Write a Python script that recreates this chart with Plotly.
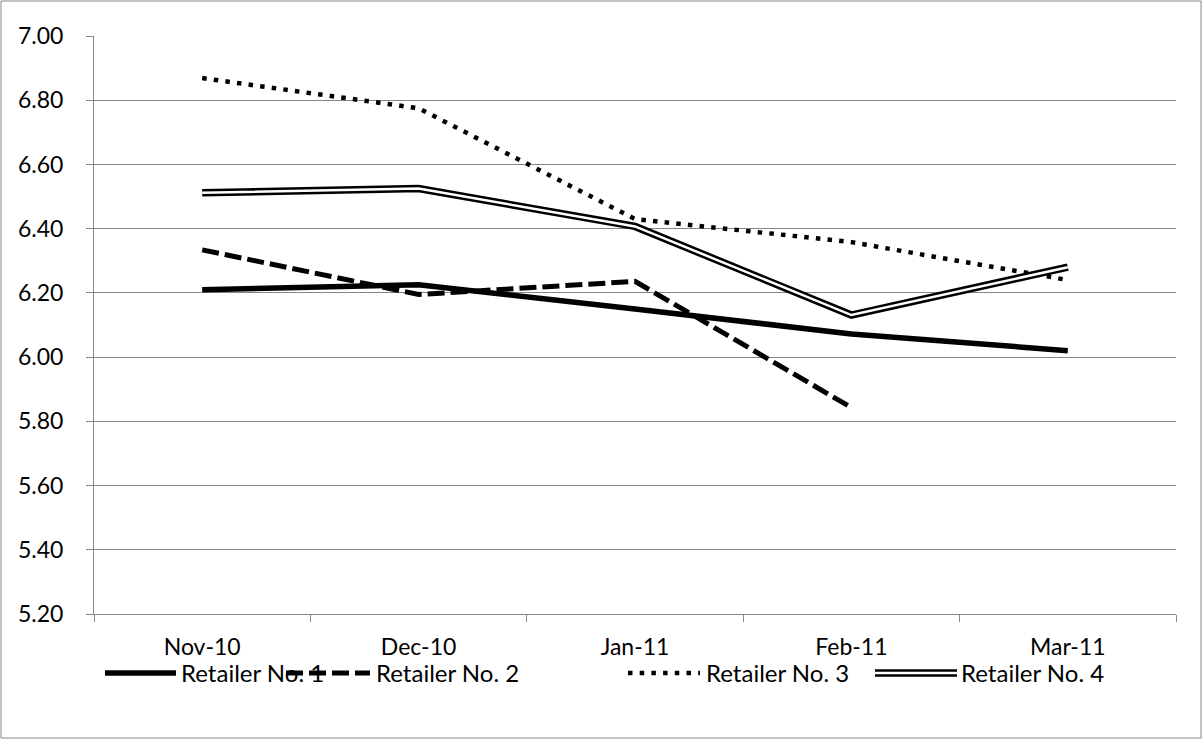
import plotly.graph_objects as go

months = ["Nov-10", "Dec-10", "Jan-11", "Feb-11", "Mar-11"]
retailer1 = [6.21, 6.225, 6.15, 6.072, 6.02]
retailer2 = [6.334, 6.195, 6.236, 5.843, None]
retailer3 = [6.869, 6.775, 6.43, 6.358, 6.24]
retailer4 = [6.512, 6.525, 6.407, 6.131, 6.28]
names = ["Retailer No. 1", "Retailer No. 2", "Retailer No. 3", "Retailer No. 4"]

W, H = 1203, 740
L, R, T, B = 94, 1176, 36, 614
FONT = "Lato"
FS = 23
GRID = "#868686"
DASH = "17px,6px"
DOT = "4.5px,7.2px"


def px(x):
    return (x - L) / (R - L)


def py(y):
    return (B - y) / (B - T)


fig = go.Figure()
fig.add_trace(go.Scatter(x=months, y=retailer1, mode="lines", name=names[0],
                         line=dict(color="black", width=5.5), showlegend=False))
fig.add_trace(go.Scatter(x=months, y=retailer2, mode="lines", name=names[1],
                         line=dict(color="black", width=5, dash=DASH),
                         showlegend=False))
fig.add_trace(go.Scatter(x=months, y=retailer3, mode="lines", name=names[2],
                         line=dict(color="black", width=4.5, dash=DOT),
                         showlegend=False))
fig.add_trace(go.Scatter(x=months, y=retailer4, mode="lines", name=names[3],
                         line=dict(color="black", width=7.5), showlegend=False))
fig.add_trace(go.Scatter(x=months, y=retailer4, mode="lines", name=names[3],
                         line=dict(color="white", width=2.5), showlegend=False,
                         hoverinfo="skip"))

# custom legend (Excel style, long samples)
legend_y = 673
samples = [(105, 176, 181), (286, 370, 376), (628, 700, 706), (875, 957, 961)]
styles = [
    [dict(color="black", width=5.5)],
    [dict(color="black", width=5, dash=DASH)],
    [dict(color="black", width=4.5, dash=DOT)],
    [dict(color="black", width=7.5), dict(color="white", width=2.5)],
]
shapes = []
annotations = []
for (x0, x1, xt), st, nm in zip(samples, styles, names):
    for s in st:
        shapes.append(dict(type="line", xref="paper", yref="paper",
                           x0=px(x0), x1=px(x1), y0=py(legend_y), y1=py(legend_y),
                           line=s))
    annotations.append(dict(xref="paper", yref="paper", x=px(xt), y=py(legend_y),
                            text=nm, showarrow=False, xanchor="left",
                            yanchor="middle", xshift=-2,
                            font=dict(family=FONT, size=24, color="black")))

# outer chart border
shapes.append(dict(type="rect", xref="paper", yref="paper",
                   x0=px(1), x1=px(1201), y0=py(738), y1=py(1),
                   line=dict(color="#868686", width=1), layer="below"))

fig.update_layout(
    width=W, height=H,
    margin=dict(l=L, r=W - R, t=T, b=H - B),
    paper_bgcolor="white", plot_bgcolor="white",
    font=dict(family=FONT, size=FS, color="black"),
    showlegend=False,
    shapes=shapes,
    annotations=annotations,
    xaxis=dict(type="category", tickson="boundaries", ticks="outside",
               ticklen=7, tickcolor=GRID, showgrid=False, showline=True,
               linecolor=GRID, linewidth=1, range=[-0.5, 4.5],
               tickfont=dict(family=FONT, size=FS, color="black"),
               ticklabelstandoff=12),
    yaxis=dict(range=[5.2, 7.0], dtick=0.2, tick0=5.2, tickformat=".2f",
               ticks="outside", ticklen=7, tickcolor=GRID, showgrid=True,
               gridcolor=GRID, gridwidth=1, showline=True, linecolor=GRID,
               linewidth=1, zeroline=False,
               tickfont=dict(family=FONT, size=FS, color="black"),
               ticklabelstandoff=18),
)

fig.write_html("out.html",
               config={"displayModeBar": False},
               post_script="document.body.style.margin='0px';"
                           "document.body.style.overflow='hidden';")
